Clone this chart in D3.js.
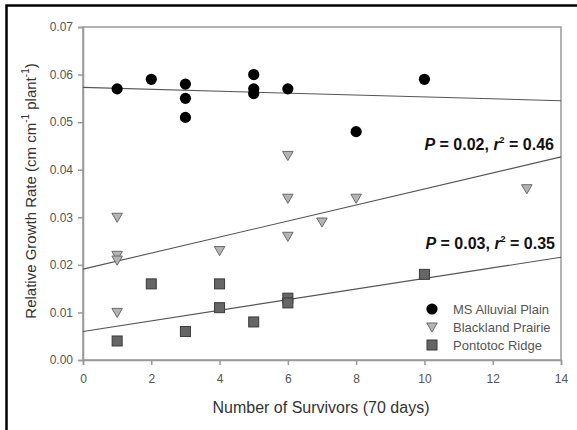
<!DOCTYPE html>
<html><head><meta charset="utf-8">
<script src="https://cdn.jsdelivr.net/npm/d3@7"></script>
<style>body{margin:0;background:#fff}svg{display:block;font-family:"Liberation Sans",Arial,sans-serif}</style>
</head><body><svg id="c" width="577" height="430"></svg>
<script>
// Data
const msX = [1, 2, 3, 3, 3, 5, 5, 5, 6, 8, 10];
const msY = [0.057, 0.059, 0.058, 0.055, 0.051, 0.060, 0.057, 0.056, 0.057, 0.048, 0.059];
const bpX = [1, 1, 1, 1, 4, 6, 6, 6, 7, 8, 13];
const bpY = [0.030, 0.022, 0.021, 0.010, 0.023, 0.043, 0.034, 0.026, 0.029, 0.034, 0.036];
const prX = [1, 2, 3, 4, 4, 5, 6, 6, 10];
const prY = [0.004, 0.016, 0.006, 0.016, 0.011, 0.008, 0.013, 0.012, 0.018];
// fitted lines: [y at x=0, y at x=14]
const msFit = [0.0573, 0.0545];
const bpFit = [0.0191, 0.0427];
const prFit = [0.0060, 0.0216];
const xTicks = [0, 2, 4, 6, 8, 10, 12, 14];
const yTicks = [0.00, 0.01, 0.02, 0.03, 0.04, 0.05, 0.06, 0.07];
const seriesNames = ["MS Alluvial Plain", "Blackland Prairie", "Pontotoc Ridge"];

const svg = d3.select("#c");
const x = d3.scaleLinear().domain([0, 14]).range([83, 561]);
const y = d3.scaleLinear().domain([0, 0.07]).range([360, 27]);
const axisCol = "#999";

// outer frame (top and left visible)
svg.append("path").attr("d", "M6.5,430 V5.5 H577").attr("fill", "none").attr("stroke", "#000").attr("stroke-width", 2.5);

// plot frame
svg.append("rect").attr("x", x(0)).attr("y", y(0.07)).attr("width", x(14) - x(0)).attr("height", y(0) - y(0.07))
  .attr("fill", "none").attr("stroke", axisCol).attr("stroke-width", 1.5);

const xa = svg.append("g").attr("transform", `translate(0,${y(0)})`)
  .call(d3.axisBottom(x).tickValues(xTicks).tickSize(5).tickPadding(9).tickFormat(d3.format("d")));
const ya = svg.append("g").attr("transform", `translate(${x(0)},0)`)
  .call(d3.axisLeft(y).tickValues(yTicks).tickSize(5).tickPadding(5).tickFormat(d3.format(".2f")));
[xa, ya].forEach(a => {
  a.select(".domain").attr("stroke", axisCol).attr("stroke-width", 1.5);
  a.selectAll(".tick line").attr("stroke", axisCol).attr("stroke-width", 1.5);
  a.selectAll(".tick text").attr("fill", "#555").style("font-size", "12px").style("font-family", "Liberation Sans, Arial, sans-serif");
});

// fit lines
[msFit, bpFit, prFit].forEach(f => {
  svg.append("line").attr("x1", x(0)).attr("y1", y(f[0])).attr("x2", x(14)).attr("y2", y(f[1]))
    .attr("stroke", "#555").attr("stroke-width", 1.1);
});

// markers
const g = svg.append("g");
g.selectAll("circle.ms").data(msX.map((v, i) => [v, msY[i]])).join("circle")
  .attr("cx", d => x(d[0])).attr("cy", d => y(d[1])).attr("r", 5.6).attr("fill", "#000");
const tri = d3.symbol().type(d3.symbolTriangle).size(48);
g.selectAll("path.bp").data(bpX.map((v, i) => [v, bpY[i]])).join("path")
  .attr("d", tri).attr("transform", d => `translate(${x(d[0])},${y(d[1]) - 1}) rotate(180)`)
  .attr("fill", "#b4b4b4").attr("stroke", "#6a6a6a").attr("stroke-width", 1);
g.selectAll("rect.pr").data(prX.map((v, i) => [v, prY[i]])).join("rect")
  .attr("x", d => x(d[0]) - 5).attr("y", d => y(d[1]) - 5).attr("width", 10).attr("height", 10)
  .attr("fill", "#666").attr("stroke", "#3a3a3a").attr("stroke-width", 1);

// annotations
function annot(xr, yb, p, r) {
  const t = svg.append("text").attr("x", xr).attr("y", yb).attr("text-anchor", "end")
    .attr("font-weight", "bold").attr("font-size", 16).attr("fill", "#111");
  t.append("tspan").attr("font-style", "italic").text("P");
  t.append("tspan").text(" = " + p + ", ");
  t.append("tspan").attr("font-style", "italic").text("r");
  t.append("tspan").attr("font-size", 9).attr("dy", -7).text("2");
  t.append("tspan").attr("dy", 7).text(" = " + r);
}
annot(554, 150, "0.02", "0.46");
annot(555, 249, "0.03", "0.35");

// legend
const lg = svg.append("g");
const ly = [309, 327, 345];
lg.append("circle").attr("cx", 432).attr("cy", ly[0]).attr("r", 5.6).attr("fill", "#000");
lg.append("path").attr("d", tri).attr("transform", `translate(432,${ly[1] - 1}) rotate(180)`)
  .attr("fill", "#b4b4b4").attr("stroke", "#6a6a6a");
lg.append("rect").attr("x", 427).attr("y", ly[2] - 5).attr("width", 10).attr("height", 10)
  .attr("fill", "#666").attr("stroke", "#3a3a3a");
seriesNames.forEach((s, i) => {
  lg.append("text").attr("x", 453).attr("y", ly[i] + 4.5).attr("font-size", 13).attr("fill", "#555").text(s);
});

// axis titles
svg.append("text").attr("x", 321).attr("y", 413).attr("text-anchor", "middle").attr("font-size", 16).attr("fill", "#333")
  .text("Number of Survivors (70 days)");
const yt = svg.append("text").attr("transform", "translate(36,191) rotate(-90)").attr("text-anchor", "middle")
  .attr("font-size", 15).attr("fill", "#333");
yt.append("tspan").text("Relative Growth Rate (cm cm");
yt.append("tspan").attr("font-size", 10).attr("dy", -7).text("-1");
yt.append("tspan").attr("dy", 7).text(" plant");
yt.append("tspan").attr("font-size", 10).attr("dy", -7).text("-1");
yt.append("tspan").attr("dy", 7).text(")");
</script></body></html>
